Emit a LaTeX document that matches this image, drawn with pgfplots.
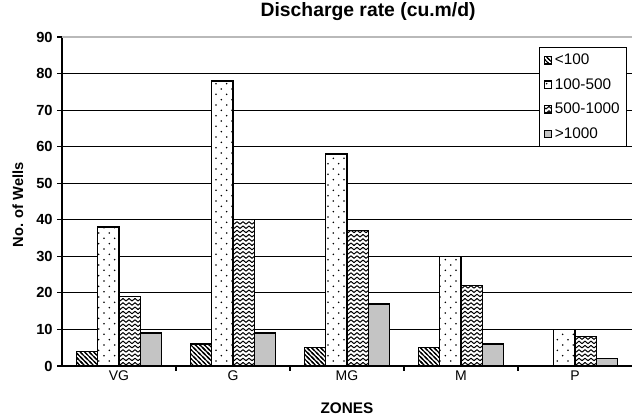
\documentclass[border=0pt]{standalone}
\usepackage{fontspec}
\setmainfont{Liberation Sans}
\usepackage{pgfplots}
\pgfplotsset{compat=1.18}
\usetikzlibrary{patterns}

\pgfdeclarepatternformonly{nwlines}{\pgfqpoint{-1pt}{-1pt}}{\pgfqpoint{4.4pt}{4.4pt}}{\pgfqpoint{3.4pt}{3.4pt}}{
  \pgfsetlinewidth{0.85pt}
  \pgfpathmoveto{\pgfqpoint{0pt}{3.4pt}}
  \pgfpathlineto{\pgfqpoint{3.4pt}{0pt}}
  \pgfpathmoveto{\pgfqpoint{-1pt}{1pt}}
  \pgfpathlineto{\pgfqpoint{1pt}{-1pt}}
  \pgfpathmoveto{\pgfqpoint{2.4pt}{4.4pt}}
  \pgfpathlineto{\pgfqpoint{4.4pt}{2.4pt}}
  \pgfusepath{stroke}}

\pgfdeclarepatternformonly{sparsedots}{\pgfqpoint{-1pt}{-1pt}}{\pgfqpoint{9pt}{9pt}}{\pgfqpoint{8pt}{8pt}}{
  \pgfpathcircle{\pgfqpoint{2pt}{2pt}}{0.65pt}
  \pgfpathcircle{\pgfqpoint{6pt}{6pt}}{0.65pt}
  \pgfusepath{fill}}

\pgfdeclarepatternformonly{zigzag}{\pgfqpoint{-1pt}{-1pt}}{\pgfqpoint{5.5pt}{4.2pt}}{\pgfqpoint{4.5pt}{3.2pt}}{
  \pgfsetlinewidth{0.75pt}
  \pgfsetroundjoin
  \pgfpathmoveto{\pgfqpoint{0pt}{0.6pt}}
  \pgfpathlineto{\pgfqpoint{2.25pt}{2.5pt}}
  \pgfpathlineto{\pgfqpoint{4.5pt}{0.6pt}}
  \pgfusepath{stroke}}

\definecolor{barGray}{HTML}{C4C4C4}

\begin{document}
\begin{tikzpicture}
\path[use as bounding box] (-46.5pt,-38.25pt) rectangle (430.5pt,274.5pt);
\begin{axis}[
  at={(0pt,0pt)}, anchor=south west,
  scale only axis, width=427.5pt, height=246.75pt,
  ybar=0pt, bar width=16pt,
  xmin=-0.5, xmax=4.5, ymin=0, ymax=90,
  xtick={0.5,1.5,2.5,3.5}, xticklabels={},
  extra x ticks={0,1,2,3,4},
  extra x tick labels={VG,G,MG,M,P},
  extra x tick style={major tick length=0pt, grid=none},
  ytick={0,10,...,80},
  extra y ticks={90},
  extra y tick style={grid style={gray!55, line width=1pt}},
  ymajorgrids, grid style={black, line width=0.9pt},
  axis x line*=bottom, axis y line*=left,
  axis line style={line width=1pt, -},
  tick align=outside, major tick length=3.5pt,
  tick style={black, line width=0.8pt},
  /pgf/number format/assume math mode=true,
  yticklabel style={font=\fontsize{11}{13}\selectfont\bfseries},
  xticklabel style={font=\fontsize{10.5}{12}\selectfont},
  title={Discharge rate (cu.m/d)},
  title style={font=\fontsize{14.5}{16}\selectfont\bfseries, at={(axis description cs:0.537,1.052)}, anchor=center},
  xlabel={ZONES},
  xlabel style={font=\fontsize{11.5}{13}\selectfont\bfseries, at={(axis description cs:0.5,-0.1277)}, anchor=center},
  ylabel={No. of Wells},
  ylabel style={font=\fontsize{11}{13}\selectfont\bfseries, at={(axis description cs:-0.0772,0.49)}, anchor=center},
  legend style={at={(0.991,0.97)}, anchor=north east, draw=black, line width=0.8pt, fill=white,
    font=\fontsize{11.5}{13.5}\selectfont, row sep=4.8pt, inner sep=3pt, cells={anchor=west}},
  legend image code/.code={\draw[#1, line width=0.6pt] (0pt,-2.8pt) rectangle (5.6pt,2.8pt);},
  enlarge x limits=false,
]
\addplot[draw=black, line width=1pt, preaction={fill=white}, pattern=nwlines]
  coordinates {(0,4) (1,6) (2,5) (3,5)};
\addplot[draw=black, line width=1pt, preaction={fill=white}, pattern=sparsedots]
  coordinates {(0,38) (1,78) (2,58) (3,30) (4,10)};
\addplot[draw=black, line width=1pt, preaction={fill=white}, pattern=zigzag]
  coordinates {(0,19) (1,40) (2,37) (3,22) (4,8)};
\addplot[draw=black, line width=1pt, fill=barGray]
  coordinates {(0,9) (1,9) (2,17) (3,6) (4,2)};
\legend{<100,100-500,500-1000,>1000}
\end{axis}
\end{tikzpicture}
\end{document}
